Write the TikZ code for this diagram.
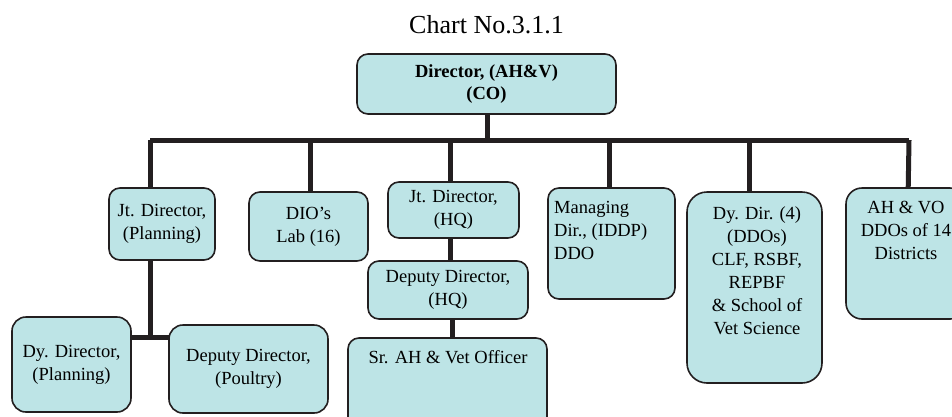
\documentclass[tikz,border=0pt]{standalone}
\usepackage{fontspec}
\setmainfont{Liberation Serif}
\definecolor{boxfill}{HTML}{BDE4E6}
\definecolor{boxline}{HTML}{231F20}
\begin{document}
\begin{tikzpicture}[x=1pt,y=-1pt,
  box/.style={draw=boxline,fill=boxfill,line width=1.6pt,rounded corners=11pt,inner sep=0pt,
    align=center,font=\fontsize{18.5}{23}\selectfont},
  txt/.style={inner sep=0pt,font=\fontsize{18.5}{23}\selectfont,anchor=north},
  conn/.style={draw=boxline,line width=5pt}]
\useasboundingbox (0,0) rectangle (952,416);
\clip (0,0) rectangle (952,416);
\fill[white] (0,0) rectangle (952,416);

% title
\node[inner sep=0pt,anchor=base,font=\fontsize{26}{30}\selectfont] (title) at (486.5,33) {Chart No.3.1.1};

% bus coordinates
\coordinate (busL) at (150,140);
\coordinate (busR) at (909,140);
\coordinate (jp) at (151,337);

% connectors (drawn first, boxes on top)
\draw[conn] (487,100) coordinate (trk) -- (trk |- busL);
\draw[conn] (busL) -- (busR);
\draw[conn] (busL) -- (busL |- jp);
\draw[conn] (310,140) coordinate (dx) -- (310,200);
\draw[conn] (450,140) coordinate (hx) -- (450,200);
\draw[conn] (609,140) coordinate (mx) -- (609,200);
\draw[conn] (749,140) coordinate (vx) -- (749,200);
\draw[conn] (busR) -- (908,200);
\draw[conn] (20,337) coordinate (jl) -- (320,337) coordinate (jr);
\draw[conn] (450,230) coordinate (h1) -- (450,270);
\draw[conn] (452,310) coordinate (h2) -- (452,345);

% boxes
\node[box,minimum width=259pt,minimum height=60pt,font=\bfseries\fontsize{18.5}{22}\selectfont] (dir) at (486.5,84) {Director, (AH\&V)\\(CO)};
\node[box,minimum width=106pt,minimum height=72pt] (jtp) at (162,224) {Jt. Director,\\(Planning)};
\node[box,minimum width=119pt,minimum height=69pt] (dio) at (308.5,226.5) {DIO’s\\Lab (16)};
\node[box,minimum width=131pt,minimum height=56pt] (jthq) at (453.5,210) {Jt. Director,\\(HQ)};
\node[box,minimum width=160pt,minimum height=58pt] (ddhq) at (448,290) {Deputy Director,\\(HQ)};
\node[box,minimum width=199pt,minimum height=102pt] (sr) at (447.5,389) {};
\node[box,minimum width=127pt,minimum height=111pt] (md) at (611.5,243.5) {};
\node[box,minimum width=135pt,minimum height=191pt,rounded corners=20pt] (dd4) at (754.5,287.5) {};
\node[box,minimum width=120pt,minimum height=131pt,rounded corners=16pt] (ahvo) at (906,253.5) {};
\node[box,minimum width=119pt,minimum height=95pt,rounded corners=14pt] (dyp) at (71.5,364.5) {Dy. Director,\\(Planning)};
\node[box,minimum width=159pt,minimum height=88pt,rounded corners=14pt] (ddp) at (248.5,369) {Deputy Director,\\(Poultry)};

% top-anchored texts
\node[txt] (srt) at (448,350) {Sr. AH \& Vet Officer};
\node[txt,anchor=north west,align=left] (mdt) at (554,201) {Managing\\Dir., (IDDP)\\DDO};
\node[txt,align=center] (dd4t) at (757,206.5) {Dy. Dir. (4)\\(DDOs)\\CLF, RSBF,\\REPBF\\\& School of\\Vet Science};
\node[txt,align=center] (ahvot) at (906,201) {AH \& VO\\DDOs of 14\\Districts};
\end{tikzpicture}
\end{document}
